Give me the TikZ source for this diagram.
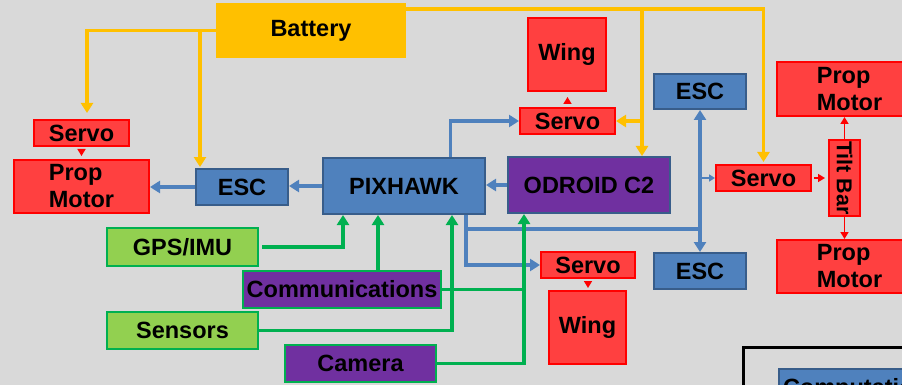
\documentclass[tikz,border=0pt]{standalone}
\usepackage{fontspec}
\setmainfont{Liberation Sans}
\usetikzlibrary{arrows.meta}
\definecolor{bgc}{HTML}{D9D9D9}
\definecolor{rfill}{HTML}{FF4040}
\definecolor{rdraw}{HTML}{FF0000}
\definecolor{bfill}{HTML}{4F81BD}
\definecolor{bdraw}{HTML}{385D8A}
\definecolor{pfill}{HTML}{7030A0}
\definecolor{gfill}{HTML}{92D050}
\definecolor{gdraw}{HTML}{00B050}
\definecolor{yfill}{HTML}{FFC000}
\definecolor{bline}{HTML}{4F81BD}
\tikzset{
  base/.style={draw, line width=2pt, inner sep=0pt, font=\bfseries\fontsize{23.5}{27}\selectfont, align=center},
  redbox/.style={base, fill=rfill, draw=rdraw},
  bluebox/.style={base, fill=bfill, draw=bdraw},
  purplebox/.style={base, fill=pfill, draw=bdraw},
  commbox/.style={base, fill=pfill, draw=gdraw},
  greenbox/.style={base, fill=gfill, draw=gdraw},
  yellowbox/.style={base, fill=yfill, draw=yfill},
  yline/.style={draw=yfill, line width=3.3pt},
  yarrow/.style={yline, -{Triangle[length=10pt,width=12pt]}},
  bconn/.style={draw=bline, line width=3.3pt},
  barrow/.style={bconn, -{Triangle[length=10pt,width=12pt]}},
  bthin/.style={draw=bline, line width=1.5pt, -{Triangle[length=6pt,width=7pt]}},
  gline/.style={draw=gdraw, line width=3.3pt},
  garrow/.style={gline, -{Triangle[length=10pt,width=12pt]}},
  rarrow/.style={draw=rdraw, line width=1.6pt, -{Triangle[length=7pt,width=8pt]}},
}
\begin{document}
\begin{tikzpicture}[x=1pt,y=-1pt]
\useasboundingbox (0,0) rectangle (902,385);
\clip (0,0) rectangle (902,385);
\fill[bgc] (0,0) rectangle (902,385);

% nodes
\node[yellowbox, minimum width=188, minimum height=53] (battery) at (311,30.5) {Battery};
\node[redbox, minimum width=95, minimum height=26] (servoL) at (81.5,133) {Servo};
\node[redbox, minimum width=135, minimum height=53, align=left] (propL) at (81.5,186.5) {Prop\\Motor};
\node[bluebox, minimum width=92, minimum height=36] (escL) at (242,187) {ESC};
\node[bluebox, minimum width=162, minimum height=56] (pix) at (404,186) {PIXHAWK};
\node[purplebox, minimum width=162, minimum height=56] (odroid) at (589,185) {ODROID C2};
\node[redbox, minimum width=78, minimum height=73] (wingT) at (567,54.5) {Wing};
\node[redbox, minimum width=95, minimum height=26] (servoT) at (567.5,121) {Servo};
\node[bluebox, minimum width=92, minimum height=35] (escTR) at (700,91.5) {ESC};
\node[redbox, minimum width=145, minimum height=54, align=left] (propTR) at (849.5,89) {Prop\\Motor};
\node[redbox, minimum width=95, minimum height=26] (servoR) at (763.5,178) {Servo};
\node[redbox, minimum width=76, minimum height=31, rotate=-90, font=\bfseries\fontsize{21.5}{25}\selectfont] (tilt) at (844.5,178) {Tilt Bar};
\node[redbox, minimum width=145, minimum height=53, align=left] (propBR) at (849.5,266.5) {Prop\\Motor};
\node[bluebox, minimum width=92, minimum height=36] (escBR) at (700,271) {ESC};
\node[redbox, minimum width=94, minimum height=26] (servoB) at (588,265) {Servo};
\node[redbox, minimum width=77, minimum height=73] (wingB) at (587.5,327.5) {Wing};
\node[greenbox, minimum width=151, minimum height=38] (gps) at (182.5,247) {GPS/IMU};
\node[commbox, minimum width=198, minimum height=37] (comm) at (342,289.5) {Communications};
\node[greenbox, minimum width=151, minimum height=37] (sensors) at (182.5,330.5) {Sensors};
\node[commbox, minimum width=151, minimum height=37] (camera) at (360.5,363.5) {Camera};

% legend (cut off by the picture's edge, as in the reference)
\node[draw=black, line width=3pt, anchor=north west, minimum width=300, minimum height=120] (legend) at (742,346) {};
\node[bluebox, anchor=north west, inner xsep=4pt, inner ysep=9pt] (legcomp) at (778,368) {Computation};

% yellow power lines
\draw[yarrow, shorten >=6pt] (battery.west) -| ([xshift=5.5pt]servoL.north);
\coordinate (yj1) at (200,30.5);
\draw[yarrow, shorten >=1pt] (yj1) -- (yj1 |- escL.north);
\coordinate (yR) at (405,9);
\draw[yarrow, shorten >=2pt] (yR) -| (servoR.north);
\coordinate (yj2) at (642,9);
\draw[yarrow] (yj2) -- (yj2 |- odroid.north);
\coordinate (yj3) at (642,121);
\draw[yarrow] (yj3) -- (servoT.east);

% blue signal lines
\draw[barrow] (pix.west) -- (pix.west -| escL.east);
\draw[barrow] (escL.west) -- (escL.west -| propL.east);
\coordinate (pt) at (450.5,0);
\draw[barrow] (pix.north -| pt) |- (servoT.west);
\draw[barrow] (odroid.west) -- (odroid.west -| pix.east);
\coordinate (pb) at (466,0);
\draw[barrow] (pix.south -| pb) |- (servoB.west);
\coordinate (bj) at (466,229);
\coordinate (bk) at (escTR.south |- bj);
\draw[bconn] (bj) -- (bk);
\draw[barrow] (bk) -- (escTR.south);
\draw[barrow] (bk) -- (escBR.north);
\draw[bthin] (escTR.south |- servoR.west) -- (servoR.west);

% green sensor lines
\coordinate (g1) at (343,0);
\draw[garrow] ([xshift=3pt]gps.east) -| (pix.south -| g1);
\coordinate (g2) at (378,0);
\draw[garrow] (comm.north -| g2) -- (pix.south -| g2);
\coordinate (g3) at (452,0);
\draw[garrow] (sensors.east) -| (pix.south -| g3);
\coordinate (g4) at (524,0);
\draw[gline] (comm.east) -- (comm.east -| g4);
\draw[garrow] (camera.east) -| (odroid.south -| g4);

% red mechanical links
\draw[rarrow, shorten <=4pt, shorten >=3pt] (servoL.south) -- (servoL.south |- propL.north);
\draw[rarrow, shorten <=5pt, shorten >=5pt] (servoT.north) -- (servoT.north |- wingT.south);
\draw[rarrow, shorten <=2pt, shorten >=2pt] (servoB.south) -- (servoB.south |- wingB.north);
\draw[rarrow, shorten <=2pt, shorten >=3pt] (servoR) -- (tilt);
\draw[rarrow] (tilt) -- (tilt |- propTR.south);
\draw[rarrow] (tilt) -- (tilt |- propBR.north);
\end{tikzpicture}
\end{document}
